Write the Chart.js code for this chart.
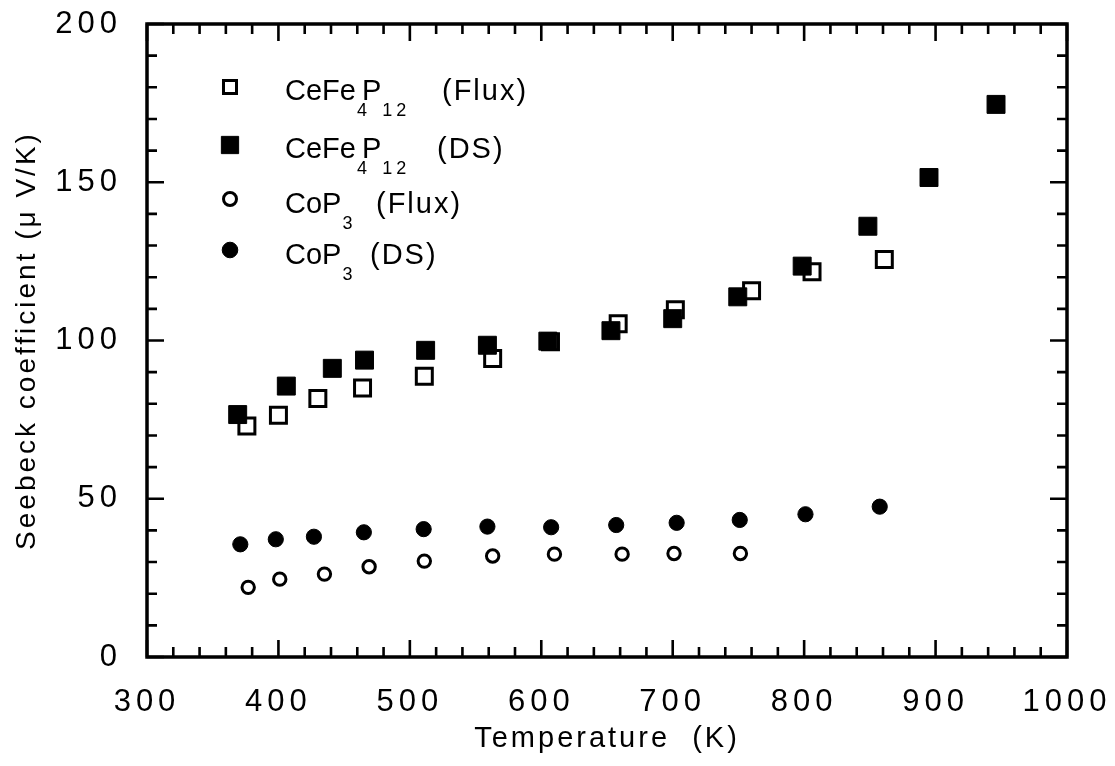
<!DOCTYPE html>
<html>
<head>
<meta charset="utf-8">
<script src="https://cdn.jsdelivr.net/npm/chart.js@4/dist/chart.umd.min.js"></script>
<style>
html,body{margin:0;padding:0;background:#fff;}
#wrap{width:1115px;height:766px;}
</style>
</head>
<body>
<div id="wrap"><canvas id="c" width="1115" height="766"></canvas></div>
<script>
// ---- data ----
const tempCeFeFlux = [376, 400, 430, 464, 511, 563, 607, 658.5, 702, 760, 806, 861];
const seebeckCeFeFlux = [73.0, 76.4, 81.7, 85.0, 88.7, 94.3, 99.6, 105.3, 109.7, 115.7, 121.7, 125.6];

const tempCeFeDS = [369, 406, 441, 465.5, 512, 559, 605, 653, 700, 749.5, 798.5, 848.5, 895, 946];
const seebeckCeFeDS = [76.6, 85.6, 91.2, 93.8, 96.9, 98.5, 99.8, 103.1, 106.9, 113.8, 123.5, 136.1, 151.5, 174.6];

const tempCoPFlux = [377, 401, 435, 469, 511, 563, 610, 661.5, 701, 751.5];
const seebeckCoPFlux = [22.0, 24.6, 26.2, 28.5, 30.3, 31.9, 32.5, 32.5, 32.7, 32.7];

const tempCoPDS = [371, 398, 427, 465, 510.5, 559, 607.5, 657, 703, 751, 801, 857.5];
const seebeckCoPDS = [35.6, 37.2, 38.0, 39.4, 40.4, 41.2, 41.0, 41.7, 42.4, 43.3, 45.1, 47.5];

const xTickLabels = ['300', '400', '500', '600', '700', '800', '900', '1000'];
const yTickLabels = ['0', '50', '100', '150', '200'];

const seriesNames = ['CeFe4P12 (Flux)', 'CeFe4P12 (DS)', 'CoP3 (Flux)', 'CoP3 (DS)'];
// legend text pieces: [text, isSubscript]
const legendParts = [
  [['CeFe', false], ['4', true], ['P', false], ['12', true], ['(Flux)', false]],
  [['CeFe', false], ['4', true], ['P', false], ['12', true], ['(DS)', false]],
  [['CoP', false], ['3', true], ['(Flux)', false]],
  [['CoP', false], ['3', true], ['(DS)', false]]
];
const xTitle = 'Temperature  (K)';
const yTitle = 'Seebeck coefficient (\u03BC V/K)';

const toPts = (xs, ys) => xs.map((x, i) => ({x: x, y: ys[i]}));

const FONT = "'Liberation Sans', Arial, Helvetica, sans-serif";
Chart.defaults.font.family = FONT;
Chart.defaults.color = '#000';

// legend layout (relative to chart area left / top)
const legendMarkerX = 83;
const legendRowY = [63, 121, 175, 226];
const legendBaseY = [76, 134, 189, 240];
const legendTextX = 138;
const legendLastX = [295, 290, 229, 223];
const legendMarkers = [
  {pointStyle: 'rect', radius: 9.2, fill: '#fff', border: 3},
  {pointStyle: 'rect', radius: 12.2, fill: '#000', border: 1},
  {pointStyle: 'circle', radius: 6.5, fill: '#fff', border: 3},
  {pointStyle: 'circle', radius: 7.8, fill: '#000', border: 1}
];

const legendPlugin = {
  id: 'formulaLegend',
  afterDatasetsDraw(chart) {
    const ctx = chart.ctx;
    const a = chart.chartArea;
    ctx.save();
    legendParts.forEach((parts, r) => {
      const m = legendMarkers[r];
      ctx.fillStyle = m.fill;
      ctx.strokeStyle = '#000';
      ctx.lineWidth = m.border;
      Chart.helpers.drawPoint(ctx, {pointStyle: m.pointStyle, radius: m.radius, rotation: 0, borderWidth: m.border},
        a.left + legendMarkerX, a.top + legendRowY[r]);
      ctx.fillStyle = '#000';
      ctx.textAlign = 'left';
      ctx.textBaseline = 'alphabetic';
      const base = a.top + legendBaseY[r];
      let x = a.left + legendTextX;
      parts.forEach((p, k) => {
        const isLast = k === parts.length - 1;
        if (isLast) {
          ctx.font = '29px ' + FONT;
          ctx.letterSpacing = '2px';
          ctx.fillText(p[0], a.left + legendLastX[r], base);
        } else if (p[1]) {
          ctx.font = '18px ' + FONT;
          ctx.letterSpacing = '4px';
          ctx.fillText(p[0], x + 1, base + 16);
          x += (k === 1 && parts.length > 3) ? 6 : ctx.measureText(p[0]).width + 2;
        } else {
          ctx.font = '29px ' + FONT;
          ctx.letterSpacing = '0px';
          ctx.fillText(p[0], x, base);
          x += ctx.measureText(p[0]).width;
        }
      });
    });
    ctx.restore();
  }
};

const frameTicksPlugin = {
  id: 'frameTicks',
  beforeDraw(chart) {
    chart.ctx.letterSpacing = '3px';
  },
  afterDatasetsDraw(chart) {
    const ctx = chart.ctx;
    const a = chart.chartArea;
    const xs = chart.scales.x, ys = chart.scales.y;
    ctx.save();
    ctx.strokeStyle = '#000';
    ctx.lineWidth = 2.6;
    ctx.beginPath();
    xs.ticks.forEach(t => {
      const px = xs.getPixelForValue(t.value);
      const L = (t.value % 100 === 0) ? 17 : 10;
      ctx.moveTo(px, a.bottom); ctx.lineTo(px, a.bottom - L);
      ctx.moveTo(px, a.top); ctx.lineTo(px, a.top + L);
    });
    ys.ticks.forEach(t => {
      const py = ys.getPixelForValue(t.value);
      const L = (t.value % 50 === 0) ? 17 : 10;
      ctx.moveTo(a.left, py); ctx.lineTo(a.left + L, py);
      ctx.moveTo(a.right, py); ctx.lineTo(a.right - L, py);
    });
    ctx.stroke();
    ctx.lineWidth = 3.5;
    ctx.strokeRect(a.left, a.top, a.right - a.left, a.bottom - a.top);
    ctx.restore();
    // wider spacing for tick labels (drawn after datasets, z = 1)
    ctx.letterSpacing = '5px';
  }
};

new Chart(document.getElementById('c'), {
  type: 'scatter',
  data: {
    datasets: [
      {
        label: seriesNames[1],
        data: toPts(tempCeFeDS, seebeckCeFeDS),
        pointStyle: 'rect', pointRadius: 12.7, pointBorderWidth: 1,
        backgroundColor: '#000', borderColor: '#000', order: 0
      },
      {
        label: seriesNames[0],
        data: toPts(tempCeFeFlux, seebeckCeFeFlux),
        pointStyle: 'rect', pointRadius: 11.3, pointBorderWidth: 3,
        backgroundColor: '#fff', borderColor: '#000', order: 1
      },
      {
        label: seriesNames[3],
        data: toPts(tempCoPDS, seebeckCoPDS),
        pointStyle: 'circle', pointRadius: 7.6, pointBorderWidth: 1,
        backgroundColor: '#000', borderColor: '#000', order: 2
      },
      {
        label: seriesNames[2],
        data: toPts(tempCoPFlux, seebeckCoPFlux),
        pointStyle: 'circle', pointRadius: 6.2, pointBorderWidth: 3,
        backgroundColor: '#fff', borderColor: '#000', order: 3
      }
    ]
  },
  options: {
    responsive: false,
    animation: false,
    events: [],
    layout: {padding: {left: 0, right: 48, top: 24, bottom: 0}},
    plugins: {legend: {display: false}, tooltip: {enabled: false}},
    scales: {
      x: {
        type: 'linear', min: 300, max: 1000,
        grid: {display: false, drawTicks: false},
        border: {display: false},
        ticks: {
          stepSize: 20, autoSkip: false, maxRotation: 0, minRotation: 0, padding: 27, z: 1,
          font: {size: 31}, color: '#000',
          callback: v => (v % 100 === 0 ? xTickLabels[Math.round((v - 300) / 100)] : '')
        },
        title: {display: true, text: xTitle, font: {size: 29}, color: '#000', padding: {top: 0, bottom: 10}},
        afterFit: s => { s.height = 109; s.paddingLeft = 0; s.paddingRight = 0; }
      },
      y: {
        type: 'linear', min: 0, max: 200,
        grid: {display: false, drawTicks: false},
        border: {display: false},
        ticks: {
          stepSize: 10, autoSkip: false, padding: 25, z: 1,
          font: {size: 31}, color: '#000',
          callback: v => (v % 50 === 0 ? yTickLabels[Math.round(v / 50)] : '')
        },
        title: {display: true, text: yTitle, font: {size: 28}, color: '#000', padding: {top: 10, bottom: 0}},
        afterFit: s => { s.width = 147; s.paddingTop = 0; s.paddingBottom = 0; }
      }
    }
  },
  plugins: [legendPlugin, frameTicksPlugin]
});
</script>
</body>
</html>
